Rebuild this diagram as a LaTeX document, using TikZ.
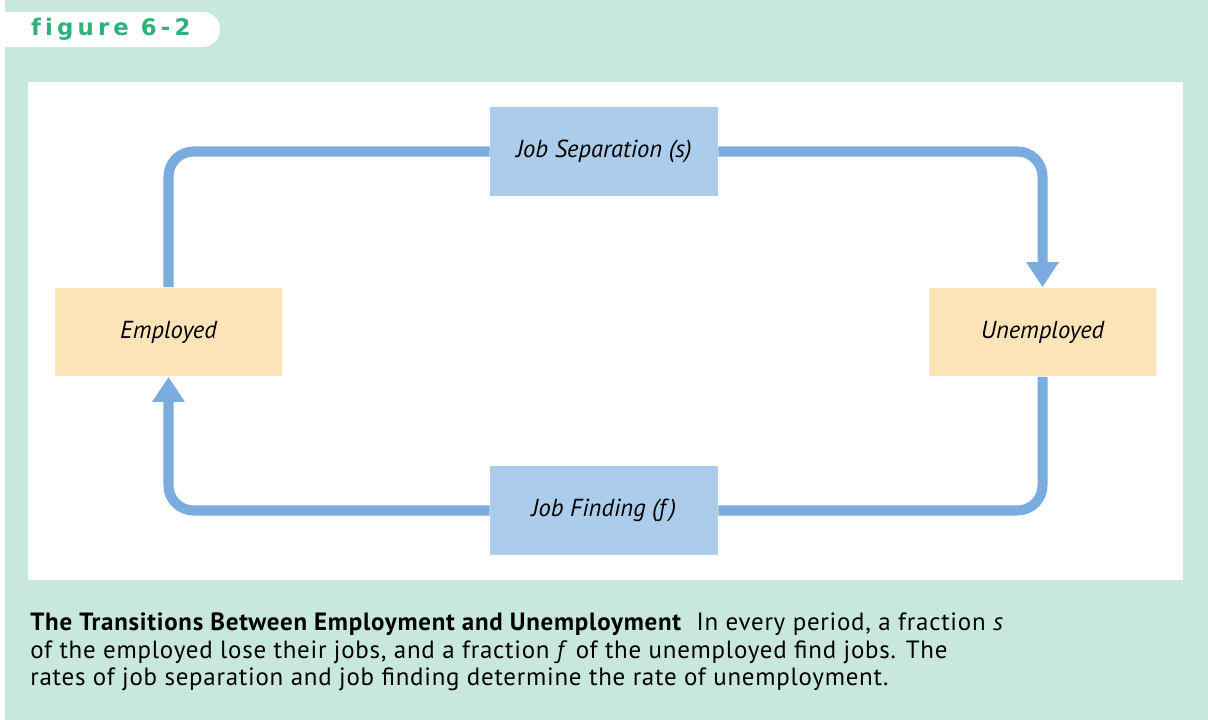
\documentclass[tikz,border=0pt]{standalone}
\usepackage{fontspec}
\setmainfont{PT Sans}
\newfontfamily\tabfont[LetterSpace=18,Ligatures=NoCommon]{DejaVu Sans}
\newfontfamily\captionfont[LetterSpace=3]{PT Sans}
\usetikzlibrary{positioning,arrows.meta}
\definecolor{panelgreen}{HTML}{C8E8DC}
\definecolor{tabgreen}{HTML}{2DB37A}
\definecolor{flowblue}{HTML}{7AADDE}
\definecolor{ratefill}{HTML}{ABCDEB}
\definecolor{statefill}{HTML}{FDE4B8}
\newcommand{\boxtext}{\fontsize{14}{16}\selectfont\itshape}

\begin{document}
\begin{tikzpicture}[x=0.02cm, y=-0.02cm,
  flow/.style={draw=flowblue, line width=5.7pt, rounded corners=0.5cm},
  flowtip/.style={-{Triangle[width=0.62cm,length=0.5cm]}},
  ratebox/.style={fill=ratefill, minimum width=4.56cm, minimum height=1.78cm},
  statebox/.style={fill=statefill, minimum width=4.56cm, minimum height=1.78cm}]

  \useasboundingbox (0,0) rectangle (1208,720);
  \fill[white] (0,0) rectangle (1208,720);
  \fill[panelgreen] (5,0) rectangle (1208,720);

  %% tab
  \fill[white, rounded corners=0.34cm] (-20,12) rectangle (220,47);
  \node[anchor=west, text=tabgreen, font=\tabfont\fontsize{13}{15}\selectfont\bfseries]
    (tab) at (25,29.5) {figure 6-2};

  %% panel
  \fill[white] (28,82) rectangle (1183,580);

  %% boxes
  \node[ratebox] (sep) at (604,151.5) {\boxtext Job Separation (s)};
  \node[ratebox] (find) at (604,510.5) {\boxtext Job Finding (f\,)};
  \node[statebox] (emp) at (168.5,332) {\boxtext Employed};
  \node[statebox] (unemp) at (1042.5,332) {\boxtext Unemployed};

  %% loop
  \draw[flow] (emp.north) |- (sep.west);
  \draw[flow, flowtip] (sep.east) -| (unemp.north);
  \draw[flow] (unemp.south) |- (find.east);
  \draw[flow, flowtip] (find.west) -| (emp.south);

  %% caption
  \node[anchor=north west, align=left, inner sep=0pt,
    font=\captionfont\fontsize{14.2}{15.9}\selectfont] (caption) at (30,612)
    {\textbf{The Transitions Between Employment and Unemployment}\ \ In every period, a fraction \textit{s}\\
     of the employed lose their jobs, and a fraction \textit{f} of the unemployed find jobs. The\\
     rates of job separation and job finding determine the rate of unemployment.};

\end{tikzpicture}
\end{document}
